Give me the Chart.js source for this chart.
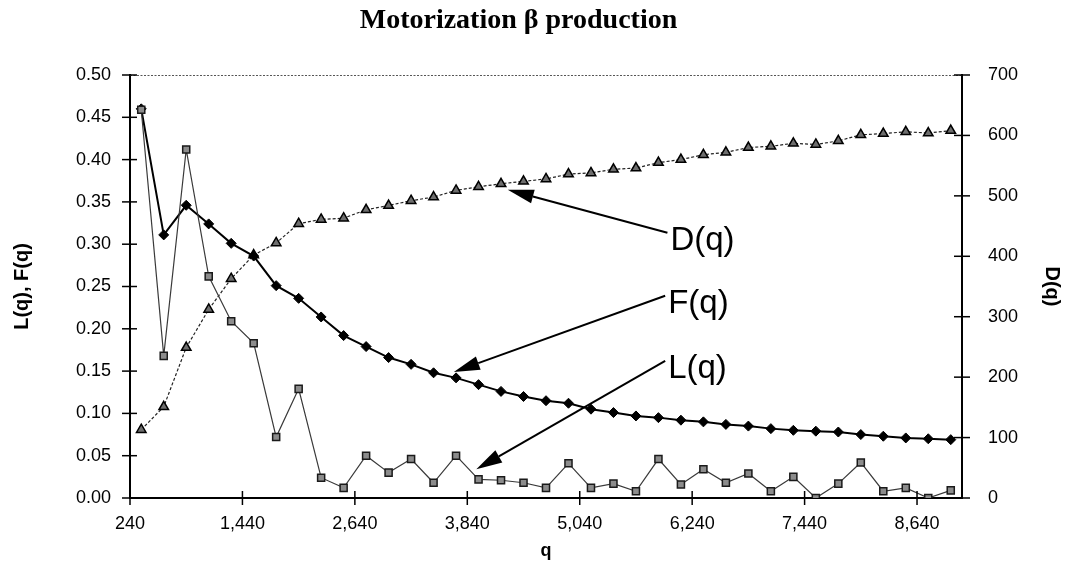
<!DOCTYPE html>
<html>
<head>
<meta charset="utf-8">
<script src="https://cdn.jsdelivr.net/npm/chart.js@4/dist/chart.umd.min.js"></script>
<style>
html,body{margin:0;padding:0;background:#fff;}
#wrap{width:1077px;height:579px;position:relative;}
</style>
</head>
<body>
<div id="wrap"><canvas id="c" width="1077" height="579"></canvas></div>
<script>
// Categories (q), step 240
const qValues = [240,480,720,960,1200,1440,1680,1920,2160,2400,2640,2880,3120,3360,3600,3840,4080,4320,4560,4800,5040,5280,5520,5760,6000,6240,6480,6720,6960,7200,7440,7680,7920,8160,8400,8640,8880];

// L(q) - left axis
const seriesL = [0.459,0.168,0.412,0.262,0.209,0.183,0.072,0.129,0.024,0.012,0.050,0.030,0.046,0.018,0.050,0.022,0.021,0.018,0.012,0.041,0.012,0.017,0.008,0.046,0.016,0.034,0.018,0.029,0.008,0.025,0.000,0.017,0.042,0.008,0.012,0.000,0.009];

// F(q) - left axis
const seriesF = [0.460,0.311,0.346,0.324,0.301,0.286,0.251,0.236,0.214,0.192,0.179,0.166,0.158,0.148,0.142,0.134,0.126,0.120,0.115,0.112,0.105,0.101,0.097,0.095,0.092,0.090,0.087,0.085,0.082,0.080,0.079,0.078,0.075,0.073,0.071,0.070,0.069];

// D(q) - right axis
const seriesD = [113,151,249,312,363,402,422,454,461,463,477,484,492,498,509,515,520,524,528,536,538,544,546,555,560,568,572,580,582,587,585,591,601,603,606,604,608];

// Tick label settings
const xLabelEvery = 5;
const leftTicks = {min:0, max:0.5, step:0.05};
const rightTicks = {min:0, max:700, step:100};

// Arrow annotations (data coordinates: category index, value, axis)
const annotations = [
  {text:'D(q)', axis:'y2', tail:[23.4, 439], tip:[16.3, 510]},
  {text:'F(q)', axis:'y',  tail:[23.3, 0.239], tip:[13.9, 0.149]},
  {text:'L(q)', axis:'y',  tail:[23.3, 0.162], tip:[14.9, 0.034]}
];

const PLOT = {left:130, right:962, top:75, bottom:498, W:1077, H:579, padRight:40};
const halfCat = (PLOT.right - PLOT.left) / qValues.length / 2;

const decorPlugin = {
  id:'decor',
  afterDatasetsDraw(chart){
    const ctx = chart.ctx, a = chart.chartArea;
    const xs = chart.scales.x, ys = chart.scales.y, y2 = chart.scales.y2;
    ctx.save();
    // top border (dotted)
    ctx.strokeStyle = '#555'; ctx.lineWidth = 1; ctx.setLineDash([2,1.5]);
    ctx.beginPath(); ctx.moveTo(a.left, a.top+0.5); ctx.lineTo(a.right, a.top+0.5); ctx.stroke();
    ctx.setLineDash([]);
    // crossing tick marks
    ctx.strokeStyle = '#000'; ctx.lineWidth = 1.5;
    ys.ticks.forEach(t => {
      const y = ys.getPixelForValue(t.value);
      ctx.beginPath(); ctx.moveTo(a.left-8, y); ctx.lineTo(a.left+7, y); ctx.stroke();
    });
    y2.ticks.forEach(t => {
      const y = y2.getPixelForValue(t.value);
      ctx.beginPath(); ctx.moveTo(a.right-8, y); ctx.lineTo(a.right+8, y); ctx.stroke();
    });
    for (let i = 0; i < qValues.length; i += xLabelEvery) {
      const x = xs.getPixelForValue(i - 0.5);
      ctx.beginPath(); ctx.moveTo(x, a.bottom-7); ctx.lineTo(x, a.bottom+7); ctx.stroke();
    }
    // annotations
    annotations.forEach(an => {
      const sc = chart.scales[an.axis];
      const x1 = xs.getPixelForValue(an.tail[0]), y1 = sc.getPixelForValue(an.tail[1]);
      const x2 = xs.getPixelForValue(an.tip[0]), y2p = sc.getPixelForValue(an.tip[1]);
      const ang = Math.atan2(y2p - y1, x2 - x1);
      const hl = 26, hw = 7;
      const bx = x2 - hl*Math.cos(ang), by = y2p - hl*Math.sin(ang);
      ctx.strokeStyle = '#000'; ctx.lineWidth = 2;
      ctx.beginPath(); ctx.moveTo(x1, y1); ctx.lineTo(bx, by); ctx.stroke();
      ctx.fillStyle = '#000';
      ctx.beginPath();
      ctx.moveTo(x2, y2p);
      ctx.lineTo(bx + hw*Math.sin(ang), by - hw*Math.cos(ang));
      ctx.lineTo(bx - hw*Math.sin(ang), by + hw*Math.cos(ang));
      ctx.closePath(); ctx.fill();
      ctx.font = '33px "Liberation Sans", Arial, sans-serif';
      ctx.textAlign = 'left'; ctx.textBaseline = 'middle';
      ctx.fillText(an.text, x1 + 3, y1 + 8);
    });
    ctx.restore();
  }
};

const tickFont = {family:'"Liberation Sans", Arial, sans-serif', size:18};
const titleFont = {family:'"Liberation Sans", Arial, sans-serif', size:20, weight:'bold'};

new Chart(document.getElementById('c'), {
  type:'line',
  data:{
    labels: qValues.map(String),
    datasets:[
      {label:'L(q)', data:seriesL, yAxisID:'y', borderColor:'#3a3a3a', borderWidth:1.2,
       pointStyle:'rect', pointRadius:5, pointBackgroundColor:'#8c8c8c', pointBorderColor:'#1a1a1a', pointBorderWidth:1.5, tension:0},
      {label:'F(q)', data:seriesF, yAxisID:'y', borderColor:'#000', borderWidth:2,
       pointStyle:'rectRot', pointRadius:5, pointBackgroundColor:'#000', pointBorderColor:'#000', pointBorderWidth:1, tension:0},
      {label:'D(q)', data:seriesD, yAxisID:'y2', borderColor:'#222', borderWidth:1.2, borderDash:[3,2],
       pointStyle:'triangle', pointRadius:5.5, pointBackgroundColor:'#6e6e6e', pointBorderColor:'#000', pointBorderWidth:1.5, tension:0}
    ]
  },
  options:{
    responsive:false, animation:false, devicePixelRatio:1,
    layout:{padding:{left:0, top:0, bottom:0, right:PLOT.padRight}},
    plugins:{
      legend:{display:false}, tooltip:{enabled:false},
      title:{display:true, text:'Motorization β production', color:'#000',
        font:{family:'"Liberation Serif", "Times New Roman", serif', size:28, weight:'bold'},
        padding:{top:4, bottom:75-4-33.6}}
    },
    scales:{
      x:{type:'category', offset:true,
        grid:{display:true, drawOnChartArea:false, drawTicks:false},
        border:{display:true, color:'#000', width:2},
        ticks:{autoSkip:false, maxRotation:0, minRotation:0, padding:15, labelOffset:-halfCat, color:'#000', font:tickFont,
          callback:(v,i)=> i % xLabelEvery === 0 ? qValues[i].toLocaleString('en-US') : ''},
        title:{display:true, text:'q', color:'#000', font:{...titleFont, size:18}, padding:{top:0, bottom:17}},
        afterFit(s){ s.height = PLOT.H - PLOT.bottom; }
      },
      y:{position:'left', min:leftTicks.min, max:leftTicks.max,
        grid:{display:true, drawOnChartArea:false, drawTicks:false},
        border:{display:true, color:'#000', width:2},
        ticks:{stepSize:leftTicks.step, padding:19, color:'#000', font:tickFont, callback:v=>Number(v).toFixed(2)},
        title:{display:true, text:'L(q), F(q)', color:'#000', font:titleFont, padding:{top:10, bottom:0}},
        afterFit(s){ s.width = PLOT.left; }
      },
      y2:{position:'right', min:rightTicks.min, max:rightTicks.max,
        grid:{display:true, drawOnChartArea:false, drawTicks:false},
        border:{display:true, color:'#000', width:2},
        ticks:{stepSize:rightTicks.step, padding:26, color:'#000', font:tickFont},
        title:{display:true, text:'D(q)', color:'#000', font:titleFont, padding:{top:-27, bottom:0}},
        afterFit(s){ s.width = PLOT.W - PLOT.padRight - PLOT.right; }
      }
    }
  },
  plugins:[decorPlugin]
});
</script>
</body>
</html>
